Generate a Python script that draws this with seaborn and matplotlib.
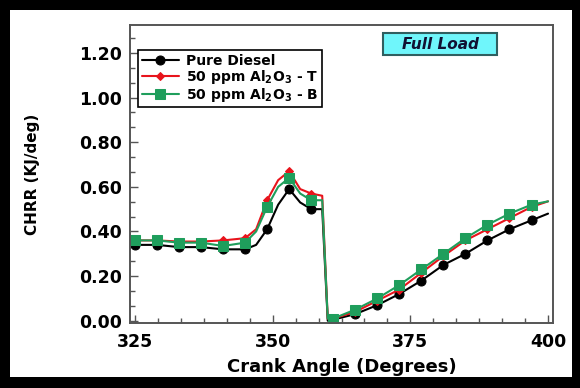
import matplotlib
matplotlib.use("Agg")
import matplotlib.pyplot as plt
from matplotlib.patches import Rectangle
from matplotlib.ticker import AutoMinorLocator
import seaborn as sns

# ---- data ----
angles = [325, 329, 333, 337, 341, 345, 347, 349, 351, 353, 355, 357, 359, 360,
          361, 365, 369, 373, 377, 381, 385, 389, 393, 397, 400]
marker_idx = [0, 1, 2, 3, 4, 5, 7, 9, 11, 14, 15, 16, 17, 18, 19, 20, 21, 22, 23]

pure_diesel = [0.34, 0.34, 0.33, 0.33, 0.32, 0.32, 0.34, 0.41, 0.52, 0.59, 0.53, 0.50, 0.50, 0.00,
               0.005, 0.03, 0.07, 0.12, 0.18, 0.25, 0.30, 0.36, 0.41, 0.45, 0.48]
al2o3_t = [0.36, 0.36, 0.355, 0.355, 0.36, 0.37, 0.41, 0.54, 0.63, 0.67, 0.59, 0.57, 0.56, 0.01,
           0.01, 0.04, 0.09, 0.14, 0.215, 0.29, 0.36, 0.41, 0.46, 0.51, 0.535]
al2o3_b = [0.36, 0.36, 0.35, 0.35, 0.335, 0.35, 0.40, 0.51, 0.60, 0.64, 0.57, 0.54, 0.54, 0.01,
           0.01, 0.05, 0.10, 0.16, 0.23, 0.30, 0.37, 0.43, 0.48, 0.52, 0.535]

labels = ["Pure Diesel",
          r"50 ppm Al$_{\mathbf{2}}$O$_{\mathbf{3}}$ - T",
          r"50 ppm Al$_{\mathbf{2}}$O$_{\mathbf{3}}$ - B"]
colors = ["#000000", "#e8141c", "#1f9e5c"]
markers = ["o", "D", "s"]
msizes = [6.5, 4.2, 6.5]

xticks = [325, 350, 375, 400]
yticks = [0.00, 0.20, 0.40, 0.60, 0.80, 1.00, 1.20]

sns.set_style("white")
plt.rcParams["font.family"] = ["DejaVu Sans"]
plt.rcParams["font.weight"] = "bold"
plt.rcParams["mathtext.default"] = "bf"
plt.rcParams["text.color"] = "black"
plt.rcParams["axes.labelcolor"] = "black"
plt.rcParams["xtick.color"] = "black"
plt.rcParams["ytick.color"] = "black"

fig = plt.figure(figsize=(5.8, 3.88), dpi=100)
fig.patch.set_facecolor("black")
fig.patches.append(Rectangle((10 / 580, 11 / 388), (572 - 10) / 580, (378 - 11) / 388,
                             transform=fig.transFigure, facecolor="white",
                             edgecolor="none", zorder=-5))

ax = fig.add_axes([130 / 580, 1 - 323 / 388, 423 / 580, 298 / 388])
ax.set_facecolor("white")

for vals, lab, c, m, ms in zip([pure_diesel, al2o3_t, al2o3_b], labels, colors, markers, msizes):
    sns.lineplot(x=angles, y=vals, ax=ax, color=c, marker=m, markersize=ms,
                 markeredgecolor=c, markerfacecolor=c, markevery=marker_idx,
                 linewidth=1.5, label=lab, sort=False, estimator=None)

ax.set_xlim(324.1, 400.9)
ax.set_ylim(-0.01, 1.325)
ax.set_xticks(xticks)
ax.set_xticklabels([str(t) for t in xticks])
ax.set_yticks(yticks)
ax.set_yticklabels([f"{t:.2f}" for t in yticks])
ax.xaxis.set_minor_locator(AutoMinorLocator(6))
ax.yaxis.set_minor_locator(AutoMinorLocator(3))
ax.tick_params(axis="both", which="major", direction="in", length=6, width=1.0,
               color="#555555", labelcolor="black", labelsize=12.5,
               bottom=True, left=True, top=False, right=False)
ax.tick_params(axis="both", which="minor", direction="in", length=3.5, width=1.0,
               color="#555555", bottom=True, left=True, top=False, right=False)
ax.tick_params(axis="x", which="major", pad=7)
ax.tick_params(axis="y", which="major", pad=6)
for lab in ax.get_xticklabels() + ax.get_yticklabels():
    lab.set_fontweight("bold")

for s in ax.spines.values():
    s.set_color("#555555")
    s.set_linewidth(1.4)

ax.set_xlabel("Crank Angle (Degrees)", fontsize=13, fontweight="bold", labelpad=5,
              color="black")
ax.set_ylabel("CHRR (KJ/deg)", fontsize=11, fontweight="bold", labelpad=28,
              color="black")

leg = ax.legend(loc="upper left", bbox_to_anchor=(0.019, 0.916), borderaxespad=0,
                fontsize=10, frameon=True, fancybox=False, framealpha=1,
                edgecolor="black", handlelength=2.7, handletextpad=0.5,
                labelspacing=0.0, borderpad=0.25)
leg.get_frame().set_linewidth(1.2)
for t in leg.get_texts():
    t.set_fontweight("bold")
    t.set_color("black")

ax.add_patch(Rectangle((0.598, 0.899), 0.27, 0.074, transform=ax.transAxes,
                       facecolor="#6ff6fb", edgecolor="#2f5f60", linewidth=1.5, zorder=5))
ax.text(0.733, 0.936, "Full Load", transform=ax.transAxes, ha="center", va="center",
        fontsize=11, fontweight="bold", fontstyle="italic", color="#111133", zorder=6)

fig.savefig("out.png", dpi=100, facecolor=fig.get_facecolor())
